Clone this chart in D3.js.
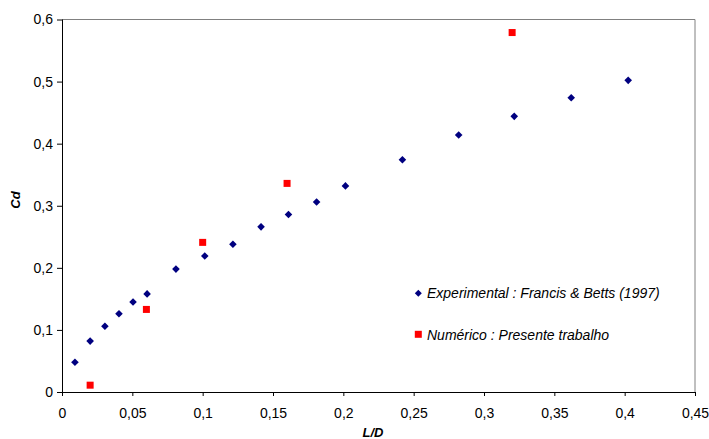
<!DOCTYPE html>
<html>
<head>
<meta charset="utf-8">
<script src="https://cdn.jsdelivr.net/npm/d3@7/dist/d3.min.js"></script>
<style>
body{margin:0;background:#fff;}
text{font-family:"Liberation Sans",Arial,sans-serif;}
</style>
</head>
<body>
<svg id="chart" width="709" height="439"></svg>
<script>
const expX = [0.0092,0.02,0.0305,0.0405,0.0505,0.0605,0.081,0.1015,0.1215,0.1415,0.161,0.181,0.2015,0.242,0.282,0.3215,0.362,0.4025];
const expY = [0.048,0.082,0.106,0.126,0.145,0.158,0.198,0.219,0.238,0.266,0.286,0.306,0.332,0.374,0.414,0.444,0.474,0.502];
const numX = [0.02,0.06,0.1,0.16,0.32];
const numY = [0.011,0.133,0.241,0.336,0.579];
const xTicks = [0,0.05,0.1,0.15,0.2,0.25,0.3,0.35,0.4,0.45];
const yTicks = [0,0.1,0.2,0.3,0.4,0.5,0.6];
const legendLabels = ["Experimental : Francis & Betts (1997)","Numérico : Presente trabalho"];

const svg = d3.select("#chart");
const L=62, R=695, T=19.5, B=392;
const x = d3.scaleLinear().domain([0,0.45]).range([L,R]);
const y = d3.scaleLinear().domain([0,0.6]).range([B,T]);
const fmt = d => String(+d.toFixed(2)).replace(".", ",");

// frame top/right
svg.append("path").attr("d",`M${L},${T}H${R}V${B}`).attr("fill","none").attr("stroke","#808080").attr("stroke-width",1);

const xa = svg.append("g").attr("transform",`translate(0,${B})`)
  .call(d3.axisBottom(x).tickValues(xTicks).tickFormat(fmt).tickSizeOuter(0).tickSize(4).tickPadding(12));
const ya = svg.append("g").attr("transform",`translate(${L},0)`)
  .call(d3.axisLeft(y).tickValues(yTicks).tickFormat(fmt).tickSizeOuter(0).tickSize(5).tickPadding(4));
[xa,ya].forEach(g=>{
  g.selectAll("text").attr("font-size",14).attr("fill","#000").attr("font-family","'Liberation Sans',Arial,sans-serif");
  g.select(".domain").attr("stroke","#000");
  g.selectAll(".tick line").attr("stroke","#000");
});
xa.select(".domain").attr("d",`M${L},0.5H${R}`);
ya.select(".domain").attr("d",`M0.5,${B}V${T}`);

const diamond = (cx,cy,r)=>`M${cx},${cy-r}L${cx+r},${cy}L${cx},${cy+r}L${cx-r},${cy}Z`;

svg.append("g").selectAll("path").data(expX.map((d,i)=>[d,expY[i]])).join("path")
  .attr("d",d=>diamond(x(d[0]),y(d[1]),3.8)).attr("fill","#000080");
svg.append("g").selectAll("rect").data(numX.map((d,i)=>[d,numY[i]])).join("rect")
  .attr("x",d=>x(d[0])-3.5).attr("y",d=>y(d[1])-3.5).attr("width",7).attr("height",7).attr("fill","#ff0000");

// legend
svg.append("path").attr("d",diamond(418.3,293.3,3.5)).attr("fill","#000080");
svg.append("rect").attr("x",414.8).attr("y",330.8).attr("width",7).attr("height",7).attr("fill","#ff0000");
svg.append("text").attr("x",427).attr("y",297.8).attr("font-size",14).attr("font-style","italic").text(legendLabels[0]);
svg.append("text").attr("x",427).attr("y",339.8).attr("font-size",14).attr("font-style","italic").text(legendLabels[1]);

// axis titles
svg.append("text").attr("x",373).attr("y",437).attr("text-anchor","middle").attr("font-size",13)
  .attr("font-weight","bold").attr("font-style","italic").text("L/D");
svg.append("text").attr("transform","translate(20,200) rotate(-90)").attr("text-anchor","middle").attr("font-size",13)
  .attr("font-weight","bold").attr("font-style","italic").text("Cd");
</script>
</body>
</html>
